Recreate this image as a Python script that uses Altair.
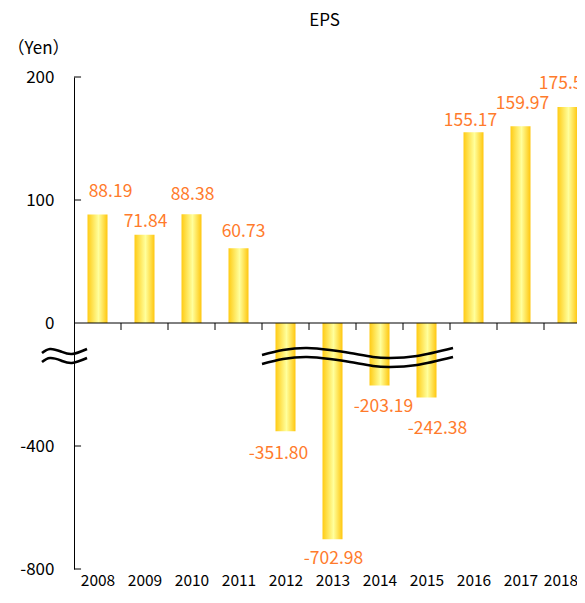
import altair as alt
import pandas as pd

years = ["2008", "2009", "2010", "2011", "2012", "2013", "2014", "2015", "2016", "2017", "2018"]
eps = [88.19, 71.84, 88.38, 60.73, -351.80, -702.98, -203.19, -242.38, 155.17, 159.97, 175.56]
y_ticks = [200, 100, 0, -100, -200]          # display units (below 0 compressed 4x)
y_inner_ticks = [200, 100, -100, -200]

# break symbols (x in category units, y in display units)
wave_bar_x = [3.5, 3.947, 4.457, 4.947, 5.372, 5.862, 6.223, 6.798, 7.564]
wave_bar_up = [-26.0, -22.0, -20.3, -22.0, -24.4, -27.6, -28.5, -26.8, -20.3]
wave_bar_lo = [-33.3, -29.3, -27.6, -29.3, -31.7, -34.9, -35.8, -34.1, -27.6]
wave_ax_x = [-1.181, -1.011, -0.777, -0.543, -0.223]
wave_ax_up = [-24.4, -21.1, -23.2, -25.2, -21.1]
wave_ax_lo = [-31.7, -28.5, -30.5, -32.5, -28.5]

# label nudges in pixels (style), per year, as placed in the reference
LABEL_DX = [13, 1, 1, 5, -7, 1, 4, 11, -3, 2, -2]
LABEL_DY = [-6, 4, -2, 1, 1, -2, 0, 9, 6, -5, -6]

FONT = "Noto Sans CJK JP"
LABEL_COLOR = "#FF7B2C"
PX_PER_CAT = 47.0
PX_PER_UNIT = 1.23
PLOT_W = 503

df = pd.DataFrame({"year": years, "eps": eps, "i": list(range(len(years)))})
df["ndx"] = [v / PX_PER_CAT for v in LABEL_DX]
df["ndy"] = [-v / PX_PER_UNIT for v in LABEL_DY]

waves = pd.concat([
    pd.DataFrame({"x": wave_bar_x, "y": wave_bar_up, "g": "bu"}),
    pd.DataFrame({"x": wave_bar_x, "y": wave_bar_lo, "g": "bl"}),
    pd.DataFrame({"x": wave_ax_x, "y": wave_ax_up, "g": "au"}),
    pd.DataFrame({"x": wave_ax_x, "y": wave_ax_lo, "g": "al"}),
])

xscale = alt.Scale(domain=[-0.5, -0.5 + PLOT_W / PX_PER_CAT], nice=False, zero=False)
yscale = alt.Scale(domain=[-200, 200], nice=False, zero=False)

year_expr = "[" + ",".join("'%s'" % y for y in years) + "][datum.value]"
last_i = len(years) - 1

base = alt.Chart(df).transform_calculate(
    disp="datum.eps >= 0 ? datum.eps : datum.eps / 4",
    x0="datum.i - 0.2128",
    x1="datum.i + 0.2128",
    b="datum.i + 0.5",
    lx="datum.i + datum.ndx",
    ly="(datum.eps >= 0 ? datum.eps : datum.eps / 4) + datum.ndy",
    lbl="replace(format(datum.eps, '.2f'), '\u2212', '-')",
)

gradient = alt.Gradient(
    gradient="linear", x1=0, x2=1, y1=0, y2=0,
    stops=[
        alt.GradientStop(color="#FFCB14", offset=0),
        alt.GradientStop(color="#FFFF9C", offset=0.55),
        alt.GradientStop(color="#FFC60E", offset=1),
    ],
)

bars = base.mark_bar(color=gradient).encode(
    x=alt.X("x0:Q", scale=xscale, axis=alt.Axis(
        values=list(range(len(years))), labelExpr=year_expr, domain=False, ticks=False,
        grid=False, labelPadding=4, labelFontSize=15.5, labelColor="#000", labelFont=FONT,
        labelOffset={"condition": {"test": "datum.value == %d" % last_i, "value": -7}, "value": 0},
        labelOverlap=False, labelBound=False, title=None)),
    x2="x1:Q",
    y=alt.Y("disp:Q", scale=yscale, axis=alt.Axis(
        values=y_ticks, labelExpr="datum.value < 0 ? '' + (datum.value * 4) : datum.label",
        domain=True, domainColor="#000", ticks=False, grid=False, labelPadding=20,
        labelFontSize=17, labelColor="#000", labelFont=FONT,
        title="（Yen）", titleAngle=0, titleX=-36, titleY=-29, titleAlign="center",
        titleBaseline="middle", titleFontWeight="normal", titleFontSize=17, titleFont=FONT,
        titleColor="#000")),
    y2=alt.datum(0),
)

pos_labels = base.transform_filter("datum.eps >= 0").mark_text(
    font=FONT, fontSize=17.5, color=LABEL_COLOR, baseline="alphabetic", dy=-12
).encode(x="lx:Q", y="ly:Q", text="lbl:N")

neg_labels = base.transform_filter("datum.eps < 0").mark_text(
    font=FONT, fontSize=17.5, color=LABEL_COLOR, baseline="alphabetic", dy=27
).encode(x="lx:Q", y="ly:Q", text="lbl:N")

zero_line = alt.Chart(pd.DataFrame({"z": [0]})).mark_rule(color="#000", strokeWidth=1).encode(
    x=alt.datum(-0.5), x2=alt.datum(len(years) - 0.5), y="z:Q")

x_ticks = base.mark_rule(color="#000", strokeWidth=1).encode(
    x="b:Q", y=alt.datum(0), y2=alt.datum(-5.7))

y_tick_marks = alt.Chart(pd.DataFrame({"t": y_inner_ticks})).mark_rule(color="#000", strokeWidth=1).encode(
    y="t:Q", x=alt.datum(-0.5), x2=alt.datum(-0.35))

wave_lines = alt.Chart(waves).mark_line(color="#000", strokeWidth=2.6, interpolate="natural").encode(
    x="x:Q", y="y:Q", detail="g:N")

chart = alt.layer(bars, zero_line, x_ticks, y_tick_marks, pos_labels, neg_labels, wave_lines).properties(
    width=PLOT_W, height=492,
    autosize=alt.AutoSizeParams(type="none"),
    padding={"left": 66, "top": 69, "right": 0, "bottom": 22},
    title=alt.TitleParams("EPS", font=FONT, fontSize=17, fontWeight="normal", color="#000",
                          anchor="middle", dx=-1, offset=9),
).configure(font=FONT, view=alt.ViewConfig(stroke=None))

chart.save("out.html", embed_options={"renderer": "svg", "actions": False})
